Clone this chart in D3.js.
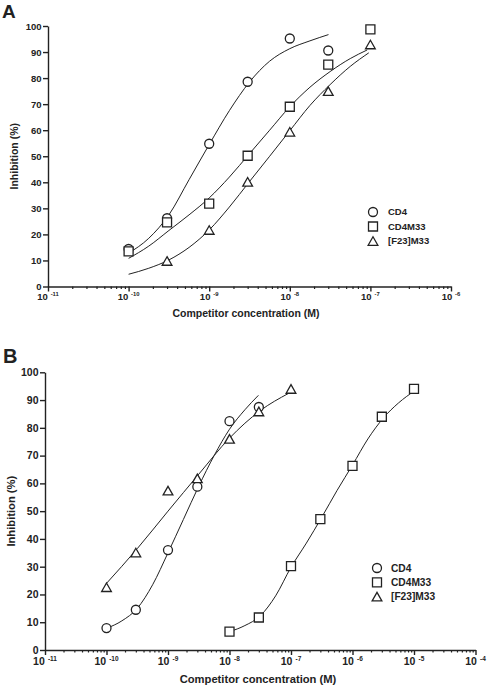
<!DOCTYPE html>
<html><head><meta charset="utf-8">
<script src="https://cdn.jsdelivr.net/npm/d3@7"></script>
<style>body{margin:0;background:#fff}svg{display:block}text{font-family:Arial,"Liberation Sans",sans-serif;font-weight:bold;fill:#222}</style>
</head><body>
<script>
// ---------- DATA ----------
const seriesNames = ["CD4", "CD4M33", "[F23]M33"];

// Panel A: measured points (concentration M, inhibition %)
const aCD4Conc = [1e-10, 3e-10, 1e-9, 3e-9, 1e-8, 3e-8];
const aCD4Val  = [14.4, 26.2, 54.8, 78.6, 95.2, 90.6];
const aCD4M33Conc = [1e-10, 3e-10, 1e-9, 3e-9, 1e-8, 3e-8, 1e-7];
const aCD4M33Val  = [13.5, 24.6, 31.8, 50.2, 69.0, 85.2, 98.7];
const aF23Conc = [3e-10, 1e-9, 3e-9, 1e-8, 3e-8, 1e-7];
const aF23Val  = [9.8, 21.7, 40.2, 59.4, 75.0, 92.9];

// Panel A: fitted curves (log10 conc, inhibition %)
const aCD4CurveLog = [-10, -9.75, -9.5, -9.25, -9, -8.75, -8.5, -8.25, -8, -7.75, -7.52];
const aCD4CurveVal = [12.8, 18.5, 27.5, 41, 54.5, 67.5, 78.5, 86.5, 91.3, 94.3, 96.7];
const aCD4M33CurveLog = [-10, -9.75, -9.5, -9.25, -9, -8.75, -8.5, -8.25, -8, -7.75, -7.5, -7.25, -7.04];
const aCD4M33CurveVal = [10.8, 15.5, 21.5, 27.5, 34, 42, 51, 60, 69, 76.5, 82.5, 87.5, 90.8];
const aF23CurveLog = [-10, -9.75, -9.5, -9.25, -9, -8.75, -8.5, -8.25, -8, -7.75, -7.5, -7.25, -7.02];
const aF23CurveVal = [4.7, 7, 10.2, 15, 21.7, 30.5, 40.3, 50, 59.8, 69.5, 77.5, 84.5, 89.7];

// Panel B: measured points
const bCD4Conc = [1e-10, 3e-10, 1e-9, 3e-9, 1e-8, 3e-8];
const bCD4Val  = [7.9, 14.5, 36.0, 58.8, 82.4, 87.5];
const bCD4M33Conc = [1e-8, 3e-8, 1e-7, 3e-7, 1e-6, 3e-6, 1e-5];
const bCD4M33Val  = [6.6, 11.7, 30.2, 47.1, 66.3, 84.0, 94.0];
const bF23Conc = [1e-10, 3e-10, 1e-9, 3e-9, 1e-8, 3e-8, 1e-7];
const bF23Val  = [22.6, 35.1, 57.4, 61.8, 76.0, 85.9, 94.0];

// Panel B: fitted curves
const bCD4CurveLog = [-10, -9.75, -9.5, -9.25, -9, -8.75, -8.5, -8.25, -8, -7.75, -7.53];
const bCD4CurveVal = [7.8, 10.5, 15, 23.5, 35, 47, 59, 70, 79.5, 86.5, 91.7];
const bCD4M33CurveLog = [-8, -7.75, -7.5, -7.25, -7, -6.75, -6.5, -6.25, -6, -5.75, -5.5, -5.25, -5];
const bCD4M33CurveVal = [6.6, 8.8, 12.3, 19.5, 29.8, 38.5, 47.8, 57.5, 66.6, 76, 83.5, 89, 93.2];
const bF23CurveLog = [-10, -9.5, -9, -8.5, -8, -7.5, -7.04];
const bF23CurveVal = [24, 36.5, 50, 63.3, 76.3, 86.2, 92.4];

// Axes
const yTicks = [0, 10, 20, 30, 40, 50, 60, 70, 80, 90, 100];
const aDecades = [-11, -10, -9, -8, -7, -6];
const bDecades = [-11, -10, -9, -8, -7, -6, -5, -4];
const axisTitleX = "Competitor concentration (M)";
const axisTitleY = "Inhibition (%)";

// ---------- DRAW ----------
const svg = d3.select("body").append("svg").attr("width", 488).attr("height", 688);
const ink = "#222";

function shape(g, kind, s) {
  const p = g.append("path").attr("fill", "#fff").attr("stroke", ink).attr("stroke-width", 1.3);
  if (kind === 0) p.attr("d", d3.symbol(d3.symbolCircle, Math.PI * (s * 0.5) ** 2)());
  else if (kind === 1) p.attr("d", `M${-s/2},${-s/2}h${s}v${s}h${-s}Z`);
  else {
    const w = s * 1.08, h = s * 0.95;
    p.attr("d", `M0,${-h/2}L${w/2},${h/2}L${-w/2},${h/2}Z`);
  }
}

function panel(cfg) {
  const x = d3.scaleLog().domain([10 ** cfg.decades[0], 10 ** cfg.decades[cfg.decades.length - 1]]).range(cfg.xr);
  const y = d3.scaleLinear().domain([0, 100]).range(cfg.yr);
  const g = svg.append("g");

  // Y axis
  const ya = g.append("g").attr("transform", `translate(${cfg.xr[0]},0)`)
    .call(d3.axisLeft(y).tickValues(yTicks).tickSize(5).tickSizeOuter(0).tickPadding(1.5).tickFormat(d3.format("d")));
  ya.selectAll("path,line").attr("stroke", ink).attr("stroke-width", 1.4);
  ya.selectAll("text").attr("font-size", cfg.fs).attr("font-family", null).attr("fill", ink);

  // X axis: minor ticks
  const minors = [];
  for (let i = 0; i < cfg.decades.length - 1; i++)
    for (let k = 2; k <= 9; k++) minors.push(k * 10 ** cfg.decades[i]);
  const xm = g.append("g").attr("transform", `translate(0,${cfg.yr[0]})`)
    .call(d3.axisBottom(x).tickValues(minors).tickSize(2.5).tickSizeOuter(0).tickFormat(""));
  xm.select(".domain").remove();
  xm.selectAll("line").attr("stroke", ink).attr("stroke-width", 1.2);
  const xa = g.append("g").attr("transform", `translate(0,${cfg.yr[0]})`)
    .call(d3.axisBottom(x).tickValues(cfg.decades.map(d => 10 ** d)).tickSize(5).tickSizeOuter(0).tickFormat(""));
  xa.selectAll("path,line").attr("stroke", ink).attr("stroke-width", 1.4);

  // X tick labels: 10 with superscript exponent
  cfg.decades.forEach(d => {
    const t = g.append("text").attr("x", x(10 ** d)).attr("y", cfg.yr[0] + cfg.labOff)
      .attr("text-anchor", "middle").attr("font-size", cfg.fs);
    t.append("tspan").text("10");
    t.append("tspan").attr("dx", cfg.fs * 0.3).attr("dy", -cfg.fs * 0.4).attr("font-size", cfg.fs * 0.62).text(String(d));
  });

  // Titles
  g.append("text").attr("x", cfg.xTitle[0]).attr("y", cfg.xTitle[1]).attr("text-anchor", "middle")
    .attr("font-size", cfg.tfs).text(axisTitleX);
  g.append("text").attr("transform", `translate(${cfg.yTitleX},${y(50)}) rotate(-90)`).attr("text-anchor", "middle")
    .attr("font-size", cfg.tfs).text(axisTitleY);
  g.append("text").attr("x", cfg.letter[0]).attr("y", cfg.letter[1]).attr("font-size", cfg.lfs).text(cfg.name);

  // Curves
  const line = d3.line().x(d => x(10 ** d[0])).y(d => y(d[1])).curve(d3.curveMonotoneX);
  cfg.curves.forEach(c => {
    g.append("path").attr("d", line(d3.zip(c[0], c[1]))).attr("fill", "none").attr("stroke", ink).attr("stroke-width", 1);
  });

  // Points
  cfg.points.forEach((p, si) => {
    p[0].forEach((cx, i) => {
      const m = g.append("g").attr("transform", `translate(${x(cx)},${y(p[1][i])})`);
      shape(m, si, cfg.ms);
    });
  });

  // Legend
  seriesNames.forEach((n, i) => {
    const yy = cfg.leg[1] + i * cfg.leg[2];
    const m = g.append("g").attr("transform", `translate(${cfg.leg[0]},${yy})`);
    shape(m, i, cfg.ms);
    g.append("text").attr("x", cfg.leg[3]).attr("y", yy).attr("dy", "0.36em").attr("font-size", cfg.lgfs).text(n);
  });
}

panel({
  name: "A", decades: aDecades, xr: [48, 451], yr: [286.5, 26], fs: 9.5, tfs: 10.5, lfs: 19, lgfs: 9.5,
  labOff: 13.5, xTitle: [246, 317], yTitleX: 18, letter: [2, 18], ms: 9,
  leg: [373, 212, 14.5, 388],
  curves: [[aCD4CurveLog, aCD4CurveVal], [aCD4M33CurveLog, aCD4M33CurveVal], [aF23CurveLog, aF23CurveVal]],
  points: [[aCD4Conc, aCD4Val], [aCD4M33Conc, aCD4M33Val], [aF23Conc, aF23Val]]
});
panel({
  name: "B", decades: bDecades, xr: [45, 475.5], yr: [650, 372.3], fs: 10.5, tfs: 11.2, lfs: 20, lgfs: 10.2,
  labOff: 15, xTitle: [258, 683], yTitleX: 14.5, letter: [3, 363], ms: 9,
  leg: [377, 568, 14.3, 391],
  curves: [[bCD4CurveLog, bCD4CurveVal], [bCD4M33CurveLog, bCD4M33CurveVal], [bF23CurveLog, bF23CurveVal]],
  points: [[bCD4Conc, bCD4Val], [bCD4M33Conc, bCD4M33Val], [bF23Conc, bF23Val]]
});
</script>
</body></html>
